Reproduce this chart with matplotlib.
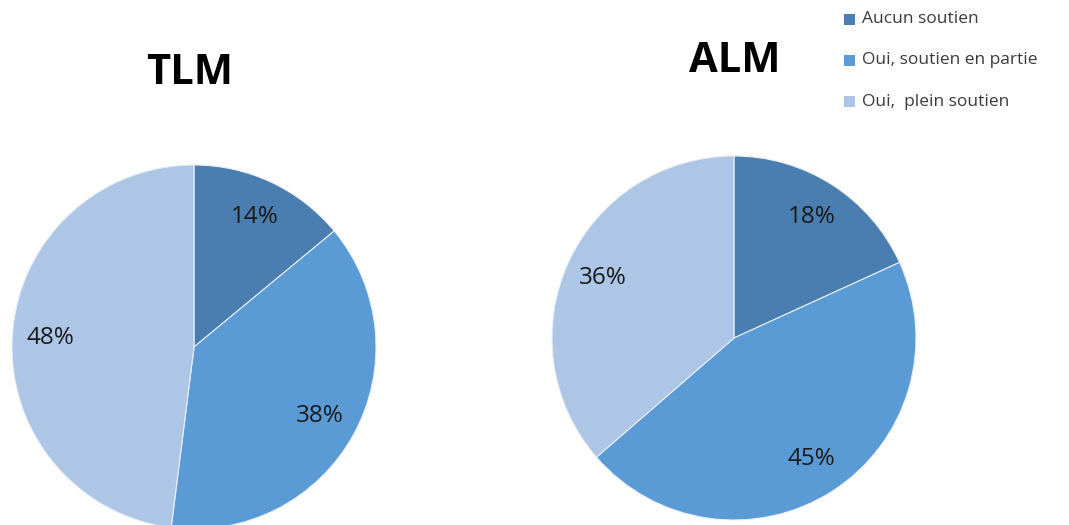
import matplotlib
matplotlib.use("Agg")
import matplotlib.pyplot as plt
from matplotlib.patches import Rectangle

categories = ["Aucun soutien", "Oui, soutien en partie", "Oui,  plein soutien"]
tlm_values = [14, 38, 48]
alm_values = [18, 45, 36]
titles = ["TLM", "ALM"]
colors = ["#4A7EB0", "#5B9BD5", "#ADC6E5"]

W, H = 1069, 525
fig = plt.figure(figsize=(W / 100, H / 100), dpi=100)
plt.rcParams['font.family'] = ['Open Sans', 'DejaVu Sans']

def px_axes(cx, cy, r):
    return fig.add_axes([(cx - r) / W, (H - cy - r) / H, 2 * r / W, 2 * r / H])

pies = [(tlm_values, (194, 347), (190, 73)), (alm_values, (734, 338), (735, 62))]
for (vals, (cx, cy), (tx, ty)), title in zip(pies, titles):
    ax = px_axes(cx, cy, 182)
    labels = [f"{v}%" for v in vals]
    ax.pie(vals, colors=colors, startangle=90, counterclock=False, radius=1,
           labels=labels, labeldistance=0.79,
           wedgeprops=dict(edgecolor="#E8EEF6", linewidth=0.8),
           textprops=dict(fontsize=17.5, color="#1a1a1a", ha="center", va="center"))
    ax.set_xlim(-1, 1)
    ax.set_ylim(-1, 1)
    ax.set_aspect("auto")
    ax.axis("off")
    fig.text(tx / W, 1 - ty / H, title, ha="center", va="center",
             fontsize=30, fontweight="bold", color="black")

# legend
rows_y = [19, 60, 102]
for cat, col, y in zip(categories, colors, rows_y):
    fig.patches.append(Rectangle((844 / W, 1 - (y + 5.5) / H), 11 / W, 11 / H,
                                 transform=fig.transFigure, facecolor=col,
                                 edgecolor="none"))
    fig.text(862 / W, 1 - y / H, cat, ha="left", va="center", fontsize=12.5,
             color="#3a3a3a")

fig.savefig("out.png", dpi=100)
